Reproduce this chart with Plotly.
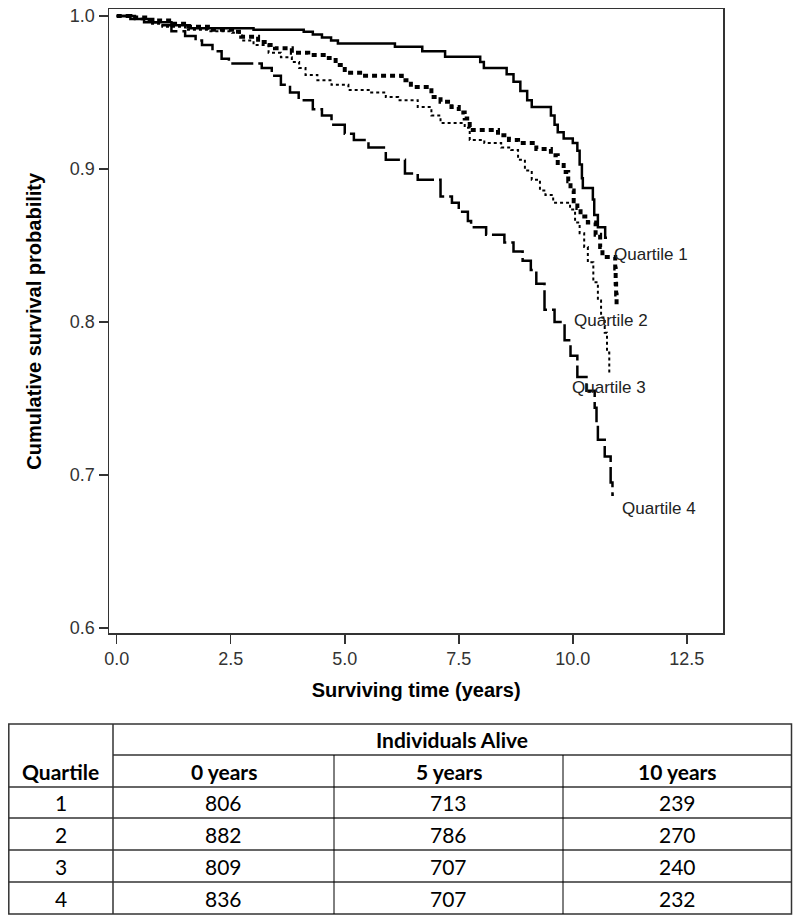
import plotly.graph_objects as go

# ---------------- data ----------------
q1_t = [0, 0.4, 0.8, 1.2, 1.6, 3.0, 4.1, 4.3, 4.5, 4.7, 4.85, 6.1, 6.7, 7.2, 7.97, 8.05, 8.55, 8.7, 8.85,
        9.0, 9.1, 9.52, 9.6, 9.67, 9.8, 10.0, 10.1, 10.15, 10.2, 10.22, 10.44, 10.47, 10.55, 10.71, 10.75]
q1_s = [1.0, 0.998, 0.996, 0.994, 0.992, 0.991, 0.9897, 0.988, 0.986, 0.984, 0.982, 0.980, 0.977, 0.9734,
        0.970, 0.966, 0.962, 0.957, 0.951, 0.945, 0.9405, 0.935, 0.929, 0.924, 0.920, 0.917, 0.912, 0.903,
        0.894, 0.8876, 0.880, 0.870, 0.862, 0.855, 0.855]

q2_t = [0, 0.3, 0.68, 1.2, 1.57, 2.0, 2.53, 2.73, 3.1, 3.3, 3.47, 3.84, 4.2, 4.65, 4.8, 5.0, 5.4, 6.25, 6.45,
        6.9, 7.1, 7.34, 7.5, 7.63, 7.74, 8.36, 8.6, 8.8, 9.2, 9.52, 9.67, 9.8, 9.9, 9.95, 10.02, 10.1, 10.17,
        10.33, 10.5, 10.6, 10.65, 10.93, 10.94, 10.95, 10.96, 10.98]
q2_s = [1.0, 0.999, 0.997, 0.995, 0.993, 0.991, 0.9897, 0.9865, 0.983, 0.981, 0.979, 0.976, 0.9745, 0.9725,
        0.968, 0.963, 0.961, 0.958, 0.9536, 0.947, 0.944, 0.9405, 0.937, 0.933, 0.9255, 0.922, 0.919, 0.917,
        0.913, 0.909, 0.9026, 0.898, 0.892, 0.886, 0.879, 0.8745, 0.869, 0.865, 0.857, 0.849, 0.8425, 0.835,
        0.825, 0.818, 0.810, 0.810]

q3_t = [0, 0.4, 0.7, 1.0, 1.5, 2.0, 2.53, 2.75, 3.0, 3.33, 3.6, 3.84, 4.0, 4.14, 4.4, 4.71, 5.08, 5.58, 5.9,
        6.17, 6.6, 6.9, 7.1, 7.63, 7.74, 8.06, 8.43, 8.65, 8.8, 8.95, 9.1, 9.28, 9.4, 9.57, 9.94, 10.05, 10.15,
        10.25, 10.33, 10.45, 10.55, 10.62, 10.7, 10.75, 10.8, 10.82]
q3_s = [1.0, 0.998, 0.995, 0.993, 0.991, 0.990, 0.989, 0.984, 0.981, 0.976, 0.973, 0.970, 0.966, 0.9615,
        0.958, 0.955, 0.9516, 0.950, 0.947, 0.945, 0.9405, 0.935, 0.930, 0.927, 0.919, 0.917, 0.914, 0.9124,
        0.906, 0.899, 0.893, 0.886, 0.883, 0.878, 0.8735, 0.865, 0.858, 0.849, 0.839, 0.826, 0.814, 0.803,
        0.793, 0.780, 0.767, 0.767]

q4_t = [0, 0.3, 0.6, 0.93, 1.2, 1.5, 1.73, 1.87, 2.1, 2.3, 2.46, 3.18, 3.4, 3.6, 3.8, 3.99, 4.3, 4.5, 4.71,
        5.0, 5.2, 5.52, 5.9, 6.32, 6.6, 7.1, 7.35, 7.5, 7.7, 7.77, 8.1, 8.5, 8.7, 8.9, 9.08, 9.2, 9.38, 9.6,
        9.82, 9.95, 10.1, 10.3, 10.48, 10.52, 10.55, 10.7, 10.83, 10.87, 10.9]
q4_s = [1.0, 0.998, 0.996, 0.994, 0.990, 0.987, 0.984, 0.981, 0.977, 0.972, 0.969, 0.966, 0.961, 0.955,
        0.950, 0.945, 0.939, 0.935, 0.929, 0.923, 0.919, 0.914, 0.906, 0.897, 0.893, 0.882, 0.878, 0.872,
        0.866, 0.862, 0.857, 0.852, 0.846, 0.840, 0.834, 0.825, 0.808, 0.800, 0.788, 0.778, 0.764, 0.755,
        0.744, 0.733, 0.723, 0.712, 0.695, 0.687, 0.687]

curve_names = ["Quartile 1", "Quartile 2", "Quartile 3", "Quartile 4"]
label_t = [10.86, 9.98, 9.94, 11.04]
label_s = [0.844, 0.8007, 0.757, 0.678]

x_ticks = [0.0, 2.5, 5.0, 7.5, 10.0, 12.5]
y_ticks = [0.6, 0.7, 0.8, 0.9, 1.0]

table_header_top = "Individuals Alive"
table_cols = ["Quartile", "0 years", "5 years", "10 years"]
table_quartile = ["1", "2", "3", "4"]
alive_0 = [806, 882, 809, 836]
alive_5 = [713, 786, 707, 707]
alive_10 = [239, 270, 240, 232]

# ---------------- figure ----------------
# the page body margin is removed by a small post-script, so the figure sits at (0, 0)
OX, OY = 0, 0
W, H = 800, 923
fig = go.Figure()

styles = [
    dict(width=2.5, dash="solid"),
    dict(width=4, dash="5px,4px"),
    dict(width=2, dash="3px,3px"),
    dict(width=2.5, dash="22px,5px"),
]
series = [(q1_t, q1_s), (q2_t, q2_s), (q3_t, q3_s), (q4_t, q4_s)]
for (t, s), name, st in zip(series, curve_names, styles):
    fig.add_trace(go.Scatter(x=t, y=s, mode="lines", name=name, line_shape="hv",
                             line=dict(color="black", width=st["width"], dash=st["dash"]),
                             showlegend=False))

LAB_FONT = "'Liberation Sans', Arial, sans-serif"

for name, lt, ls in zip(curve_names, label_t, label_s):
    fig.add_annotation(x=lt, y=ls, xref="x", yref="y", text=name, showarrow=False,
                       xanchor="left", yanchor="middle",
                       font=dict(family=LAB_FONT, size=17, color="#222"))

def px_x(p):
    return (p - OX) / W

def px_y(p):
    return 1 - (p - OY) / H

axis_common = dict(showline=True, linecolor="#333", linewidth=1.5, mirror=True,
                   ticks="outside", ticklen=9, tickwidth=1.5, tickcolor="#333",
                   showgrid=False, zeroline=False, automargin=False,
                   ticklabeloverflow="allow",
                   tickfont=dict(family=LAB_FONT, size=18, color="#333"))

fig.update_layout(
    width=W, height=H,
    margin=dict(l=0, r=0, t=0, b=0),
    paper_bgcolor="white", plot_bgcolor="white",
    xaxis=dict(domain=[px_x(109), px_x(723.3)], range=[-0.169, 13.30],
               tickvals=x_ticks, ticktext=[f"{v:.1f}" for v in x_ticks],
               title=dict(text="Surviving time (years)", standoff=14,
                          font=dict(family=LAB_FONT, size=20, color="black", weight="bold")),
               **axis_common),
    yaxis=dict(domain=[px_y(633.3), px_y(9.3)], range=[0.5965, 1.0044],
               tickvals=y_ticks, ticktext=[f"{v:.1f}" for v in y_ticks],
               title=dict(text="Cumulative survival probability", standoff=23,
                          font=dict(family=LAB_FONT, size=20, color="black", weight="bold")),
               **axis_common),
)

# ---------------- table below the chart ----------------
tx = [8.8, 113, 334, 563, 791.5]          # column boundaries (window px)
ty = [724, 755, 787, 818, 850, 882, 914]  # row boundaries (window px)
lc = dict(color="#333", width=1.5)

fig.add_shape(type="rect", xref="paper", yref="paper", x0=px_x(tx[0]), x1=px_x(tx[-1]),
              y0=px_y(ty[0]), y1=px_y(ty[-1]), line=lc)
for k in range(1, len(ty) - 1):
    x0 = tx[1] if k == 1 else tx[0]
    fig.add_shape(type="line", xref="paper", yref="paper", x0=px_x(x0), x1=px_x(tx[-1]),
                  y0=px_y(ty[k]), y1=px_y(ty[k]), line=lc)
fig.add_shape(type="line", xref="paper", yref="paper", x0=px_x(tx[1]), x1=px_x(tx[1]),
              y0=px_y(ty[0]), y1=px_y(ty[-1]), line=lc)
for k in (2, 3):
    fig.add_shape(type="line", xref="paper", yref="paper", x0=px_x(tx[k]), x1=px_x(tx[k]),
                  y0=px_y(ty[1]), y1=px_y(ty[-1]), line=dict(color="black", width=1))

tfont = "Lato, Carlito, Calibri, sans-serif"

def cell(text, ci_from, ci_to, ri, bold=False):
    xc = (tx[ci_from] + tx[ci_to]) / 2
    yc = (ty[ri] + ty[ri + 1]) / 2
    fig.add_annotation(x=px_x(xc), y=px_y(yc), xref="paper", yref="paper", text=str(text),
                       showarrow=False, xanchor="center", yanchor="middle",
                       font=dict(family=tfont, size=21, color="black",
                                 weight="bold" if bold else "normal"))

cell(table_header_top, 1, 4, 0, bold=True)
for ci, name in enumerate(table_cols):
    cell(name, ci, ci + 1, 1, bold=True)
for ri in range(len(table_quartile)):
    row = [table_quartile[ri], alive_0[ri], alive_5[ri], alive_10[ri]]
    for ci, v in enumerate(row):
        cell(v, ci, ci + 1, ri + 2)

fig.write_html("out.html",
               config={"displayModeBar": False, "staticPlot": True},
               post_script="document.body.style.margin='0';document.body.style.overflow='hidden';")
